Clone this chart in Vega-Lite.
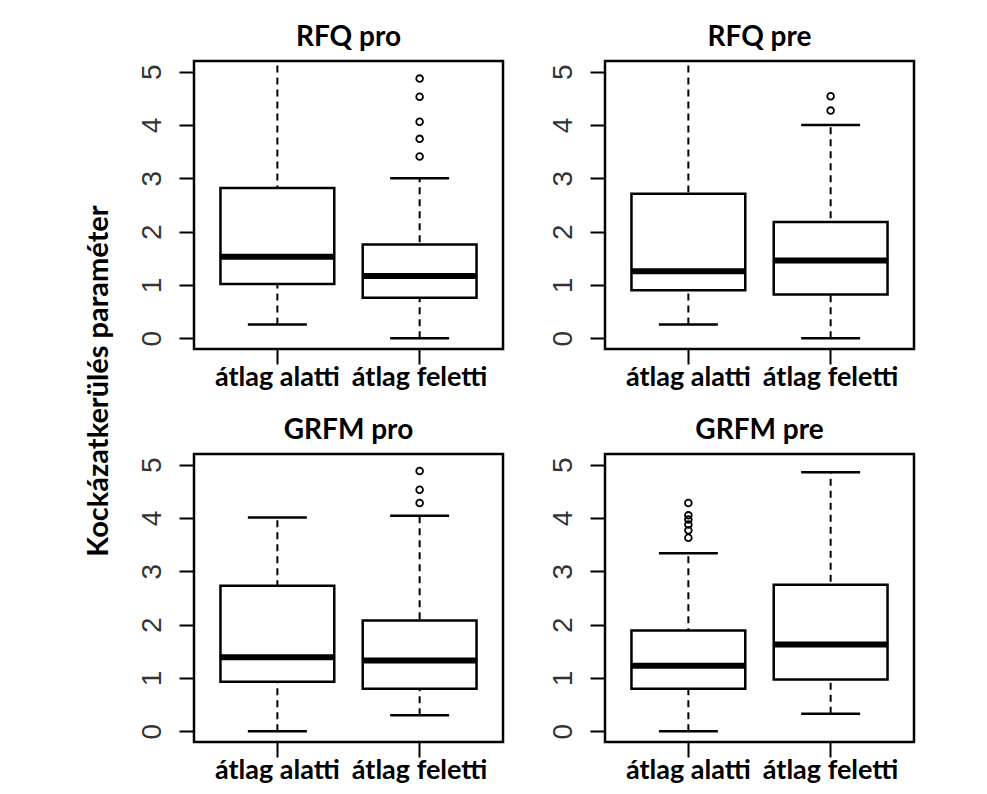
{
  "$schema": "https://vega.github.io/schema/vega-lite/v6.json",
  "background": "white",
  "padding": {"left": 82, "top": 22, "right": 5, "bottom": 5},
  "bounds": "flush",
  "columns": 2,
  "spacing": {"row": 105, "column": 102},
  "data": {
    "values": [
      {"panel": "RFQ pro", "group": "átlag alatti", "lower": 0.26, "q1": 1.02, "median": 1.53, "q3": 2.82, "upper": 5.6},
      {"panel": "RFQ pro", "group": "átlag feletti", "lower": 0.0, "q1": 0.76, "median": 1.17, "q3": 1.76, "upper": 3.0},
      {"panel": "RFQ pre", "group": "átlag alatti", "lower": 0.26, "q1": 0.90, "median": 1.26, "q3": 2.71, "upper": 5.6},
      {"panel": "RFQ pre", "group": "átlag feletti", "lower": 0.0, "q1": 0.82, "median": 1.46, "q3": 2.18, "upper": 4.0},
      {"panel": "GRFM pro", "group": "átlag alatti", "lower": 0.0, "q1": 0.93, "median": 1.39, "q3": 2.73, "upper": 4.01},
      {"panel": "GRFM pro", "group": "átlag feletti", "lower": 0.30, "q1": 0.80, "median": 1.33, "q3": 2.08, "upper": 4.04},
      {"panel": "GRFM pre", "group": "átlag alatti", "lower": 0.0, "q1": 0.80, "median": 1.23, "q3": 1.89, "upper": 3.34},
      {"panel": "GRFM pre", "group": "átlag feletti", "lower": 0.33, "q1": 0.97, "median": 1.63, "q3": 2.75, "upper": 4.86},
      {"panel": "RFQ pro", "group": "átlag feletti", "value": 4.87},
      {"panel": "RFQ pro", "group": "átlag feletti", "value": 4.53},
      {"panel": "RFQ pro", "group": "átlag feletti", "value": 4.06},
      {"panel": "RFQ pro", "group": "átlag feletti", "value": 3.74},
      {"panel": "RFQ pro", "group": "átlag feletti", "value": 3.41},
      {"panel": "RFQ pre", "group": "átlag feletti", "value": 4.54},
      {"panel": "RFQ pre", "group": "átlag feletti", "value": 4.27},
      {"panel": "GRFM pro", "group": "átlag feletti", "value": 4.88},
      {"panel": "GRFM pro", "group": "átlag feletti", "value": 4.53},
      {"panel": "GRFM pro", "group": "átlag feletti", "value": 4.28},
      {"panel": "GRFM pre", "group": "átlag alatti", "value": 4.28},
      {"panel": "GRFM pre", "group": "átlag alatti", "value": 4.05},
      {"panel": "GRFM pre", "group": "átlag alatti", "value": 3.97},
      {"panel": "GRFM pre", "group": "átlag alatti", "value": 3.88},
      {"panel": "GRFM pre", "group": "átlag alatti", "value": 3.77},
      {"panel": "GRFM pre", "group": "átlag alatti", "value": 3.63}
    ]
  },
  "concat": [
    {
      "title": "RFQ pro",
      "width": 309, "height": 288,
      "transform": [{"filter": "datum.panel === 'RFQ pro'"}],
      "encoding": {"x": {"field": "group", "type": "nominal", "sort": ["átlag alatti", "átlag feletti"], "scale": {"type": "band", "paddingInner": 0.2, "paddingOuter": 0.186}, "axis": {"title": null}}},
      "layer": [
        {"mark": {"type": "rule", "strokeDash": [7, 5], "strokeWidth": 2, "color": "black", "clip": true},
         "encoding": {"y": {"field": "lower", "type": "quantitative", "scale": {"domain": [-0.2, 5.2], "nice": false, "zero": false}, "axis": {"values": [0, 1, 2, 3, 4, 5], "format": "d", "title": "Kockázatkerülés paraméter", "titleFont": "Lato", "titleFontSize": 29, "titleFontWeight": "bold", "titleColor": "black", "titleAngle": -90, "titleX": -96, "titleY": 319.5, "titleAlign": "center", "titleBaseline": "middle"}}, "y2": {"field": "upper"}}},
        {"mark": {"type": "tick", "thickness": 2.5, "size": 59, "color": "black", "opacity": 1, "clip": true}, "encoding": {"y": {"field": "lower", "type": "quantitative"}}},
        {"mark": {"type": "tick", "thickness": 2.5, "size": 59, "color": "black", "opacity": 1, "clip": true}, "encoding": {"y": {"field": "upper", "type": "quantitative"}}},
        {"mark": {"type": "bar", "fill": "white", "stroke": "black", "strokeWidth": 2.5, "opacity": 1}, "encoding": {"y": {"field": "q1", "type": "quantitative"}, "y2": {"field": "q3"}}},
        {"mark": {"type": "tick", "thickness": 6, "size": 115, "color": "black", "opacity": 1}, "encoding": {"y": {"field": "median", "type": "quantitative"}}},
        {"mark": {"type": "point", "shape": "circle", "filled": false, "size": 45, "strokeWidth": 1.8, "color": "black", "opacity": 1}, "encoding": {"y": {"field": "value", "type": "quantitative"}}}
      ]
    },
    {
      "title": "RFQ pre",
      "width": 309, "height": 288,
      "transform": [{"filter": "datum.panel === 'RFQ pre'"}],
      "encoding": {"x": {"field": "group", "type": "nominal", "sort": ["átlag alatti", "átlag feletti"], "scale": {"type": "band", "paddingInner": 0.2, "paddingOuter": 0.186}, "axis": {"title": null}}},
      "layer": [
        {"mark": {"type": "rule", "strokeDash": [7, 5], "strokeWidth": 2, "color": "black", "clip": true},
         "encoding": {"y": {"field": "lower", "type": "quantitative", "scale": {"domain": [-0.2, 5.2], "nice": false, "zero": false}, "axis": {"values": [0, 1, 2, 3, 4, 5], "format": "d", "title": null}}, "y2": {"field": "upper"}}},
        {"mark": {"type": "tick", "thickness": 2.5, "size": 59, "color": "black", "opacity": 1, "clip": true}, "encoding": {"y": {"field": "lower", "type": "quantitative"}}},
        {"mark": {"type": "tick", "thickness": 2.5, "size": 59, "color": "black", "opacity": 1, "clip": true}, "encoding": {"y": {"field": "upper", "type": "quantitative"}}},
        {"mark": {"type": "bar", "fill": "white", "stroke": "black", "strokeWidth": 2.5, "opacity": 1}, "encoding": {"y": {"field": "q1", "type": "quantitative"}, "y2": {"field": "q3"}}},
        {"mark": {"type": "tick", "thickness": 6, "size": 115, "color": "black", "opacity": 1}, "encoding": {"y": {"field": "median", "type": "quantitative"}}},
        {"mark": {"type": "point", "shape": "circle", "filled": false, "size": 45, "strokeWidth": 1.8, "color": "black", "opacity": 1}, "encoding": {"y": {"field": "value", "type": "quantitative"}}}
      ]
    },
    {
      "title": "GRFM pro",
      "width": 309, "height": 288,
      "transform": [{"filter": "datum.panel === 'GRFM pro'"}],
      "encoding": {"x": {"field": "group", "type": "nominal", "sort": ["átlag alatti", "átlag feletti"], "scale": {"type": "band", "paddingInner": 0.2, "paddingOuter": 0.186}, "axis": {"title": null}}},
      "layer": [
        {"mark": {"type": "rule", "strokeDash": [7, 5], "strokeWidth": 2, "color": "black", "clip": true},
         "encoding": {"y": {"field": "lower", "type": "quantitative", "scale": {"domain": [-0.2, 5.2], "nice": false, "zero": false}, "axis": {"values": [0, 1, 2, 3, 4, 5], "format": "d", "title": null}}, "y2": {"field": "upper"}}},
        {"mark": {"type": "tick", "thickness": 2.5, "size": 59, "color": "black", "opacity": 1, "clip": true}, "encoding": {"y": {"field": "lower", "type": "quantitative"}}},
        {"mark": {"type": "tick", "thickness": 2.5, "size": 59, "color": "black", "opacity": 1, "clip": true}, "encoding": {"y": {"field": "upper", "type": "quantitative"}}},
        {"mark": {"type": "bar", "fill": "white", "stroke": "black", "strokeWidth": 2.5, "opacity": 1}, "encoding": {"y": {"field": "q1", "type": "quantitative"}, "y2": {"field": "q3"}}},
        {"mark": {"type": "tick", "thickness": 6, "size": 115, "color": "black", "opacity": 1}, "encoding": {"y": {"field": "median", "type": "quantitative"}}},
        {"mark": {"type": "point", "shape": "circle", "filled": false, "size": 45, "strokeWidth": 1.8, "color": "black", "opacity": 1}, "encoding": {"y": {"field": "value", "type": "quantitative"}}}
      ]
    },
    {
      "title": "GRFM pre",
      "width": 309, "height": 288,
      "transform": [{"filter": "datum.panel === 'GRFM pre'"}],
      "encoding": {"x": {"field": "group", "type": "nominal", "sort": ["átlag alatti", "átlag feletti"], "scale": {"type": "band", "paddingInner": 0.2, "paddingOuter": 0.186}, "axis": {"title": null}}},
      "layer": [
        {"mark": {"type": "rule", "strokeDash": [7, 5], "strokeWidth": 2, "color": "black", "clip": true},
         "encoding": {"y": {"field": "lower", "type": "quantitative", "scale": {"domain": [-0.2, 5.2], "nice": false, "zero": false}, "axis": {"values": [0, 1, 2, 3, 4, 5], "format": "d", "title": null}}, "y2": {"field": "upper"}}},
        {"mark": {"type": "tick", "thickness": 2.5, "size": 59, "color": "black", "opacity": 1, "clip": true}, "encoding": {"y": {"field": "lower", "type": "quantitative"}}},
        {"mark": {"type": "tick", "thickness": 2.5, "size": 59, "color": "black", "opacity": 1, "clip": true}, "encoding": {"y": {"field": "upper", "type": "quantitative"}}},
        {"mark": {"type": "bar", "fill": "white", "stroke": "black", "strokeWidth": 2.5, "opacity": 1}, "encoding": {"y": {"field": "q1", "type": "quantitative"}, "y2": {"field": "q3"}}},
        {"mark": {"type": "tick", "thickness": 6, "size": 115, "color": "black", "opacity": 1}, "encoding": {"y": {"field": "median", "type": "quantitative"}}},
        {"mark": {"type": "point", "shape": "circle", "filled": false, "size": 45, "strokeWidth": 1.8, "color": "black", "opacity": 1}, "encoding": {"y": {"field": "value", "type": "quantitative"}}}
      ]
    }
  ],
  "config": {
    "view": {"stroke": "black", "strokeWidth": 2.5},
    "axis": {"grid": false, "domain": false, "ticks": true, "tickSize": 15, "tickWidth": 2, "tickColor": "black"},
    "axisX": {"labelFont": "Lato", "labelFontWeight": "bold", "labelFontSize": 27, "labelColor": "black", "labelAngle": 0, "labelPadding": 0},
    "axisY": {"labelFont": "Liberation Sans", "labelFontSize": 28, "labelColor": "#333", "labelAngle": -90, "labelAlign": "center", "labelBaseline": "bottom", "labelPadding": 13},
    "title": {"font": "Lato", "fontSize": 28, "fontWeight": "bold", "color": "black", "anchor": "middle", "frame": "group", "baseline": "alphabetic", "offset": 9}
  }
}
